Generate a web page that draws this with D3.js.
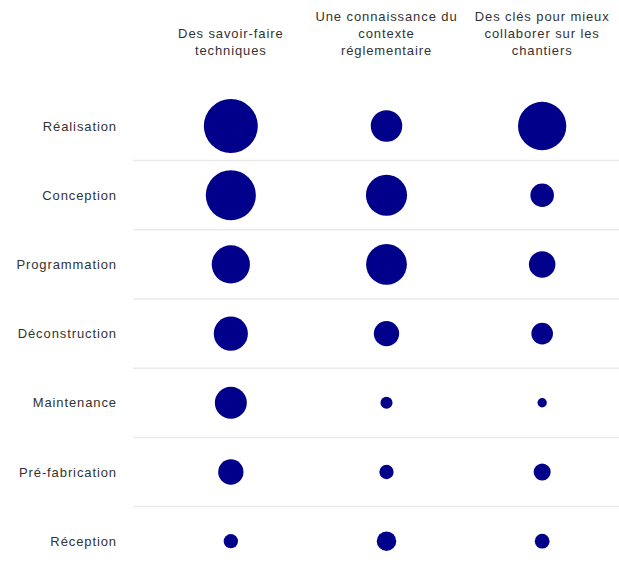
<!DOCTYPE html>
<html>
<head>
<meta charset="utf-8">
<script src="https://cdn.jsdelivr.net/npm/d3@7"></script>
<style>
  body { margin: 0; background: #fff; }
  text { font-family: "Liberation Sans", Arial, sans-serif; fill: #333; letter-spacing: 0.9px; }
</style>
</head>
<body>
<svg id="chart"></svg>
<script>
// rows and columns
const categories = ["Réalisation", "Conception", "Programmation", "Déconstruction", "Maintenance", "Pré-fabrication", "Réception"];
const columns = ["savoir", "contexte", "cles"];
const columnLabels = [
  ["Des savoir-faire", "techniques"],
  ["Une connaissance du", "contexte", "réglementaire"],
  ["Des clés pour mieux", "collaborer sur les", "chantiers"]
];

// values (largest = 100)
const savoirFaire = [100, 86, 50, 40, 35, 22, 7];
const contexte = [34, 58, 57, 22, 5, 7, 13];
const cles = [80, 19, 24, 16, 3, 10, 7.5];
const series = [savoirFaire, contexte, cles];

const width = 619, height = 571;

const svg = d3.select("#chart")
  .attr("width", width)
  .attr("height", height);

const x = d3.scaleBand()
  .domain(columns)
  .range([153, 620]);

const y = d3.scaleBand()
  .domain(categories)
  .range([91.4, 575.8]);

const r = d3.scaleSqrt()
  .domain([0, 100])
  .range([0, 27]);

/** Separators
------------------------------------------------------------*/
svg.append("g")
  .selectAll("line")
  .data(categories.slice(1))
  .enter().append("line")
  .attr("x1", 133)
  .attr("x2", width)
  .attr("y1", d => y(d))
  .attr("y2", d => y(d))
  .attr("stroke", "#ebebeb")
  .attr("stroke-width", 1.5);

/** Row labels
------------------------------------------------------------*/
svg.append("g")
  .selectAll("text")
  .data(categories)
  .enter().append("text")
  .attr("x", 117)
  .attr("y", d => y(d) + y.bandwidth() / 2)
  .attr("dy", "0.35em")
  .attr("text-anchor", "end")
  .attr("font-size", 13)
  .text(d => d);

/** Column headers
------------------------------------------------------------*/
const lineHeight = 17;
const headers = svg.append("g")
  .selectAll("text")
  .data(columns)
  .enter().append("text")
  .attr("text-anchor", "middle")
  .attr("font-size", 13);

headers.each(function (d, i) {
  const lines = columnLabels[i];
  const text = d3.select(this);
  lines.forEach((l, j) => {
    text.append("tspan")
      .attr("x", x(d) + x.bandwidth() / 2)
      .attr("y", 55 - (lines.length - 1 - j) * lineHeight)
      .text(l);
  });
});

/** Bubbles
------------------------------------------------------------*/
const cells = [];
series.forEach((vals, i) => {
  vals.forEach((v, j) => cells.push({col: columns[i], row: categories[j], value: v}));
});

svg.append("g")
  .selectAll("circle")
  .data(cells)
  .enter().append("circle")
  .attr("cx", d => x(d.col) + x.bandwidth() / 2)
  .attr("cy", d => y(d.row) + y.bandwidth() / 2)
  .attr("r", d => r(d.value))
  .attr("fill", "#00008b");
</script>
</body>
</html>
